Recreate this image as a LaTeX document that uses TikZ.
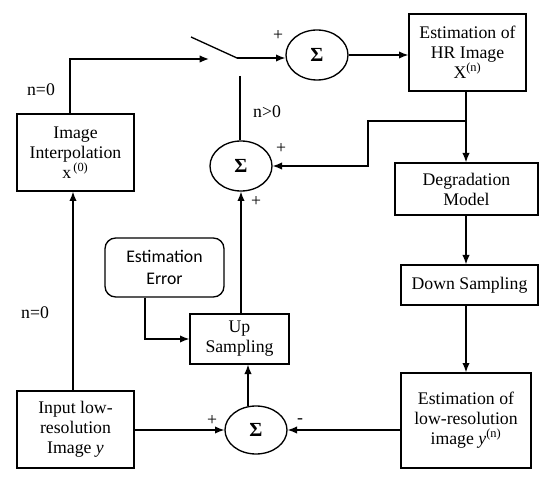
\documentclass[tikz,border=0pt]{standalone}
\usepackage{fontspec}
\setmainfont{Liberation Serif}
\newfontfamily\calib{Carlito}
\usetikzlibrary{arrows.meta,shapes.geometric,calc}
\tikzset{
  x=0.75pt, y=-0.75pt,
  every node/.style={font=\fontsize{13.3}{15}\selectfont},
  blk/.style={draw, line width=1pt, rectangle, align=center, inner sep=0pt},
  sumnode/.style={draw, line width=1pt, ellipse, inner sep=0pt, font=\fontsize{15}{15}\selectfont\bfseries},
  conn/.style={line width=1pt},
  arr/.style={line width=1pt, -{Latex[length=7pt,width=5.5pt]}},
  lbl/.style={inner sep=0pt}
}
\begin{document}
\begin{tikzpicture}
\useasboundingbox (0,0) rectangle (550,481);
% blocks
\node[blk, minimum width=117*0.75pt, minimum height=77*0.75pt] (interp) at (75.5,152.5) {Image\\Interpolation\\x\textsuperscript{\,(0)}};
\node[blk, minimum width=117*0.75pt, minimum height=77*0.75pt] (hr) at (467.5,52.5) {Estimation of\\HR Image\\X\textsuperscript{(n)}};
\node[blk, minimum width=143*0.75pt, minimum height=52*0.75pt] (deg) at (466.5,189) {Degradation\\Model};
\node[blk, minimum width=137*0.75pt, minimum height=40*0.75pt] (down) at (469.5,285) {Down Sampling};
\node[blk, minimum width=130*0.75pt, minimum height=95*0.75pt] (lowest) at (466,420.5) {Estimation of\\low-resolution\\image \textit{y}\textsuperscript{(n)}};
\node[blk, minimum width=117*0.75pt, minimum height=77*0.75pt] (input) at (75.5,429.5) {Input low-\\resolution\\Image \textit{y}};
\node[blk, minimum width=99*0.75pt, minimum height=50*0.75pt] (up) at (239.5,339) {Up\\Sampling};
\node[blk, rounded corners=8pt, minimum width=119*0.75pt, minimum height=59*0.75pt, font=\calib\fontsize{13.3}{16}\selectfont] (err) at (164.5,267.5) {Estimation\\Error};
% summing junctions
\node[sumnode, minimum width=62*0.75pt, minimum height=50*0.75pt] (s1) at (317,55) {Σ};
\node[sumnode, minimum width=62*0.75pt, minimum height=50*0.75pt] (s2) at (241,166) {Σ};
\node[sumnode, minimum width=62*0.75pt, minimum height=48*0.75pt] (s3) at (256,430) {Σ};
% switch
\coordinate (swin) at (209,59);
\coordinate (swA) at (191,37);
\coordinate (swB) at (237,58);
\coordinate (swC) at (240,76);
\coordinate (bk) at (368,121);
\coordinate (br) at (466,121);
\coordinate (s3t) at ($(s3.north)+(-8,0.5)$);
% connectors
\draw[arr] ([xshift=-5.5*0.75pt]interp.north) |- (swin);
\draw[conn] (swA) -- (swB);
\draw[arr] (swB) -- (swB -| s1.west);
\draw[conn] (swC) -- (swC |- s2.north);
\draw[arr] (s1.east) -- (s1.east -| hr.west);
\draw[arr] (hr.south -| br) -- (br |- deg.north);
\draw[arr] (br) -- (bk) |- (s2.east);
\draw[arr] (br |- deg.south) -- (br |- down.north);
\draw[arr] (br |- down.south) -- (br |- lowest.north);
\draw[arr] (s3.east -| lowest.west) -- (s3.east);
\draw[arr] (input.east |- s3.west) -- (s3.west);
\draw[arr] (s3t) -- (s3t |- up.south);
\draw[arr] (s2.south |- up.north) -- (s2.south);
\draw[arr] ([xshift=-19.5*0.75pt]err.south) |- (up.west);
\draw[arr] ([xshift=-2.5*0.75pt]input.north) -- ([xshift=-2.5*0.75pt]interp.south);
% labels
\node[lbl] (l1) at (41,90) {n=0};
\node[lbl] (l2) at (35,313) {n=0};
\node[lbl] (l3) at (267,112) {n>0};
\node[lbl] (p1) at (278,35) {+};
\node[lbl] (p2) at (281,148) {+};
\node[lbl] (p3) at (256,201) {+};
\node[lbl] (p4) at (212,420) {+};
\node[lbl] (m1) at (300,421) {-};
\end{tikzpicture}
\end{document}
